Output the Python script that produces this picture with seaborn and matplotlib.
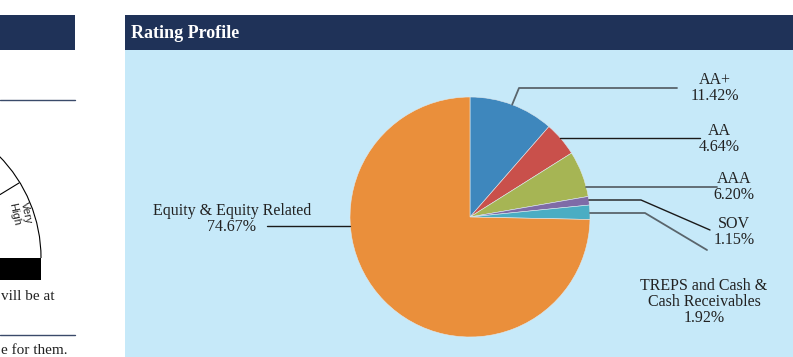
import numpy as np
import matplotlib
matplotlib.use("Agg")
import matplotlib.pyplot as plt
from matplotlib.patches import Rectangle, Arc
import seaborn as sns

# ---- data ----
categories = ["AA+", "AA", "AAA", "SOV", "TREPS and Cash &\nCash Receivables", "Equity & Equity Related"]
values = [11.42, 4.64, 6.20, 1.15, 1.92, 74.67]
value_labels = ["11.42%", "4.64%", "6.20%", "1.15%", "1.92%", "74.67%"]
colors = ["#3E87BD", "#C9504B", "#A6B554", "#7F6BA7", "#4AADC3", "#EA8F3B"]
title = "Rating Profile"

sns.set_theme(style="white")
plt.rcParams["font.family"] = ["Liberation Serif", "DejaVu Serif"]

W, H = 793, 357
fig = plt.figure(figsize=(W / 100, H / 100), dpi=100)
fig.patch.set_facecolor("white")

NAVY = "#1F3258"
PANEL = "#C6E9F9"
TXT = "#222222"

bg = fig.add_axes([0, 0, 1, 1])
bg.set_xlim(0, W); bg.set_ylim(H, 0); bg.axis("off")
# right panel
bg.add_patch(Rectangle((125, 15), W - 125, 35, color=NAVY, lw=0))
bg.add_patch(Rectangle((125, 50), W - 125, H - 50, color=PANEL, lw=0))
bg.text(131, 33, title, color="white", fontsize=13, fontweight="bold", va="center", ha="left")

# left (cropped) panel
bg.add_patch(Rectangle((0, 15), 75, 35, color=NAVY, lw=0))
bg.plot([0, 75], [100, 100], color="#3a4a6a", lw=1)
bg.plot([0, 75], [335, 335], color="#3a4a6a", lw=1)
bg.add_patch(Arc((-104, 258), 290, 290, theta1=270, theta2=360, color="black", lw=0.8))
bg.plot([19, 0], [183, 194.6], color="black", lw=0.8)
bg.add_patch(Rectangle((0, 258), 41, 22, color="black", lw=0))
bg.text(26, 213, "Very", fontsize=8, rotation=-78, ha="center", va="center",
        family=["Liberation Sans", "DejaVu Sans"], color=TXT)
bg.text(14, 214, "High", fontsize=8, rotation=-78, ha="center", va="center",
        family=["Liberation Sans", "DejaVu Sans"], color=TXT)
bg.text(1, 297, "vill be at", fontsize=11, ha="left", va="center", color=TXT)
bg.text(1, 350, "e for them.", fontsize=11, ha="left", va="center", color=TXT)

# ---- pie ----
cx, cy, r = 470, 217, 120
pax = fig.add_axes([(cx - r) / W, (H - cy - r) / H, 2 * r / W, 2 * r / H], zorder=2)
pax.pie(values, colors=colors, startangle=90, counterclock=False, radius=1,
        wedgeprops=dict(edgecolor="#dfe9ee", linewidth=0.4))
pax.set_xlim(-1, 1); pax.set_ylim(-1, 1)
pax.set_aspect("auto")
pax.axis("off")

# ---- leaders & labels ----
ov = fig.add_axes([0, 0, 1, 1], zorder=3)
ov.set_xlim(0, W); ov.set_ylim(H, 0); ov.axis("off")
ov.patch.set_alpha(0)

def edge_x(y, side=1):
    return cx + side * np.sqrt(max(r * r - (y - cy) ** 2, 0))

# wedge mid angles (degrees, standard orientation)
ang = 90.0
mids = []
for v in values:
    span = v / sum(values) * 360
    mids.append(ang - span / 2)
    ang -= span

LC1 = "#5a656c"
LC2 = "#1a1a1a"
fs = 11.5

# AA+
a = np.deg2rad(mids[0])
p0 = (cx + r * np.cos(a), cy - r * np.sin(a))
ov.plot([p0[0], 519, 677], [p0[1], 88, 88], color=LC1, lw=1.3)
ov.text(715, 88, categories[0] + "\n" + value_labels[0], ha="center", va="center",
        fontsize=fs, color=TXT, linespacing=1.0)
# AA
ov.plot([edge_x(138), 700], [138, 138], color=LC2, lw=1.0)
ov.text(719, 139, categories[1] + "\n" + value_labels[1], ha="center", va="center",
        fontsize=fs, color=TXT, linespacing=1.0)
# AAA
ov.plot([edge_x(187), 717], [187, 187], color=LC1, lw=1.3)
ov.text(734, 187, categories[2] + "\n" + value_labels[2], ha="center", va="center",
        fontsize=fs, color=TXT, linespacing=1.0)
# SOV
ov.plot([edge_x(200), 641, 710], [200, 200, 230], color=LC2, lw=1.0)
ov.text(734, 232, categories[3] + "\n" + value_labels[3], ha="center", va="center",
        fontsize=fs, color=TXT, linespacing=1.0)
# TREPS
ov.plot([edge_x(213), 645, 707], [213, 213, 250], color=LC1, lw=1.3)
ov.text(704, 302, categories[4] + "\n" + value_labels[4], ha="center", va="center",
        fontsize=fs, color=TXT, linespacing=1.0)
# Equity
ov.plot([267, edge_x(226, -1)], [226, 226], color=LC2, lw=1.0)
ov.text(232, 219, categories[5] + "\n" + value_labels[5], ha="center", va="center",
        fontsize=fs, color=TXT, linespacing=1.0)

fig.savefig("out.png", dpi=100)
